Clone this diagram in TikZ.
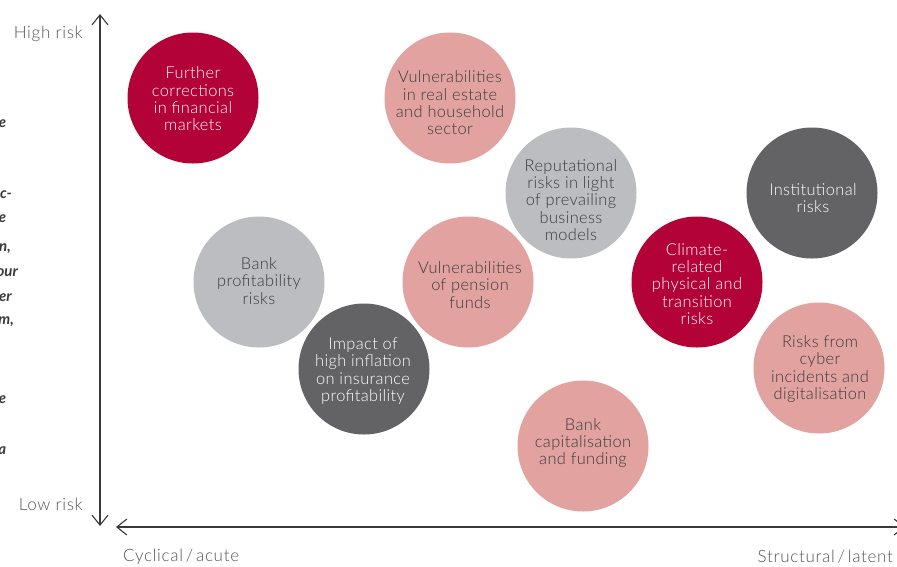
\documentclass[tikz,border=0pt]{standalone}
\usepackage{fontspec}
\setmainfont{Lato}[UprightFont={* Light}, BoldFont={* Bold}, ItalicFont={* Italic}, BoldItalicFont={* Bold Italic}]
\usetikzlibrary{arrows.meta}
\definecolor{crim}{HTML}{B20238}
\definecolor{pinkc}{HTML}{E2A3A0}
\definecolor{lgray}{HTML}{BCBDC0}
\definecolor{dgray}{HTML}{636366}
\definecolor{txtd}{HTML}{3A3A3C}
\definecolor{axisc}{HTML}{3A3A3A}
\definecolor{labc}{HTML}{555557}
\begin{document}
\begin{tikzpicture}[x=1pt,y=-1pt,
  bubble/.style={circle, minimum size=131pt, inner sep=0pt, draw=none},
  btext/.style={align=center, inner sep=0pt, font=\fontsize{16.4}{17.3}\selectfont\addfontfeatures{LetterSpace=2.3}},
  onwhite/.style={btext, text=white},
  ondark/.style={btext, text=txtd},
  lab/.style={inner sep=0pt, text=labc, font=\fontsize{17}{18}\selectfont\addfontfeatures{LetterSpace=4}},
  frag/.style={inner sep=0pt, anchor=east, text=txtd, font=\fontsize{15}{18}\selectfont\bfseries\itshape},
  axis/.style={draw=axisc, line width=1.1pt, {Straight Barb[length=10pt,width=16pt]}-{Straight Barb[length=10pt,width=16pt]}}
]
\path[use as bounding box] (0,0) rectangle (897,566);
\clip (0,0) rectangle (897,566);
\fill[white] (0,0) rectangle (897,566);

% cut-off text fragments at the left edge
\node[frag] (f1) at (6.5,124) {e};
\node[frag] (f2) at (12,195) {c-};
\node[frag] (f3) at (6.5,219) {e};
\node[frag] (f4) at (11,249) {n,};
\node[frag] (f5) at (18,273) {our};
\node[frag] (f6) at (12,298) {er};
\node[frag] (f7) at (14,322) {m,};
\node[frag] (f8) at (6.5,400) {e};
\node[frag] (f9) at (6.5,451) {a};

% axes
\coordinate (ytop) at (100,14);
\coordinate (ybot) at (100,526);
\coordinate (xleft) at (116,527);
\coordinate (xright) at (905,527);
\draw[axis] (ybot) -- (ytop);
\draw[axis] (xleft) -- (xright);

\node[lab, anchor=east] (hi) at (83,34) {High risk};
\node[lab, anchor=east] (lo) at (83,504) {Low risk};
\node[lab, anchor=west] (cyc) at (123,557) {Cyclical\,/\,acute};
\node[lab, anchor=east] (str) at (893,557) {Structural\,/\,latent};

% bubbles
\node[bubble, fill=crim]  (fin) at (193,98) {};
\node[bubble, fill=pinkc] (re)  at (450,98) {};
\node[bubble, fill=lgray] (rep) at (571,193) {};
\node[bubble, fill=dgray] (ins) at (812,193) {};
\node[bubble, fill=lgray] (bp)  at (259,282) {};
\node[bubble, fill=pinkc] (pen) at (468,282) {};
\node[bubble, fill=crim]  (cli) at (697,282) {};
\node[bubble, fill=dgray] (inf) at (364,369) {};
\node[bubble, fill=pinkc] (cyb) at (819,368) {};
\node[bubble, fill=pinkc] (cap) at (583,446) {};

\node[onwhite] (tfin) at (193,99) {Further\\corrections\\in financial\\markets};
\node[ondark]  (tre)  at (450,103) {Vulnerabilities\\in real estate\\and household\\sector};
\node[ondark]  (trep) at (571,200) {Reputational\\risks in light\\of prevailing\\business\\models};
\node[onwhite] (tins) at (813,198) {Institutional\\risks};
\node[ondark]  (tbp)  at (259,281) {Bank\\profitability\\risks};
\node[ondark]  (tpen) at (470,285) {Vulnerabilities\\of pension\\funds};
\node[onwhite] (tcli) at (697,284) {Climate-\\related\\physical and\\transition\\risks};
\node[onwhite] (tinf) at (363,371) {Impact of\\high inflation\\on insurance\\profitability};
\node[ondark]  (tcyb) at (820,369) {Risks from\\cyber\\incidents and\\digitalisation};
\node[ondark]  (tcap) at (583,443) {Bank\\capitalisation\\and funding};
\end{tikzpicture}
\end{document}
